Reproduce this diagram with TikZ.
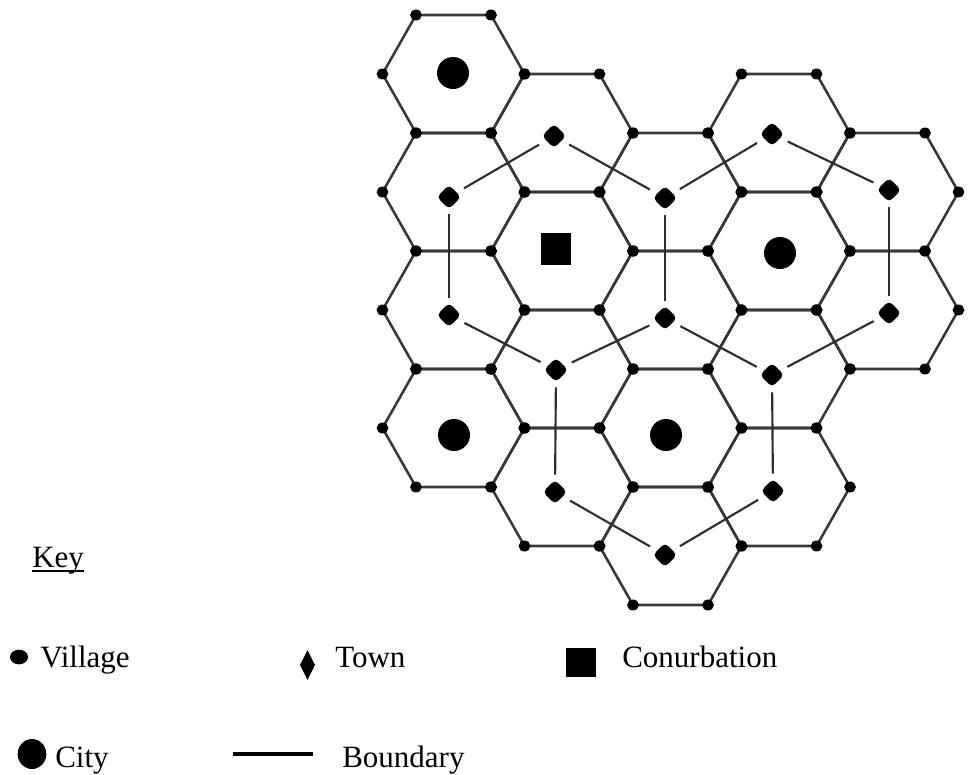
\documentclass[tikz,border=0pt]{standalone}
\usepackage{fontspec}
\setmainfont{Liberation Serif}
\usetikzlibrary{shapes.geometric}

\begin{document}
\begin{tikzpicture}[x=0.75pt,y=-0.75pt,
  hexline/.style={draw=black!78, line width=1.9pt, line join=round},
  bnd/.style={draw=black!82, line width=1.6pt, shorten <=13pt, shorten >=13pt},
  town/.style={diamond, fill=black, inner sep=0pt, minimum width=18.5pt, minimum height=18.5pt, rounded corners=3.5pt},
  city/.style={circle, fill=black, inner sep=0pt, minimum size=24pt},
  conurb/.style={rectangle, fill=black, inner sep=0pt, minimum width=22pt, minimum height=23.5pt},
  keytext/.style={anchor=base west, inner sep=0pt, font=\fontsize{23.25}{28}\selectfont}
]
\useasboundingbox (0,0) rectangle (968,775);

% hexagonal market areas with villages at every corner
\foreach \cx/\cy in {453.5/74, 453.5/192, 453.5/310, 453.5/428,
                     562/133, 562/251, 562/369, 562/487,
                     670.5/192, 670.5/310, 670.5/428, 670.5/546,
                     779/133, 779/251, 779/369, 779/487,
                     887.5/192, 887.5/310}{
  \draw[hexline] ({\cx-71},\cy) -- ({\cx-37.5},{\cy-59}) -- ({\cx+37.5},{\cy-59})
     -- ({\cx+71},\cy) -- ({\cx+37.5},{\cy+59}) -- ({\cx-37.5},{\cy+59}) -- cycle;
}
\foreach \cx/\cy in {453.5/74, 453.5/192, 453.5/310, 453.5/428,
                     562/133, 562/251, 562/369, 562/487,
                     670.5/192, 670.5/310, 670.5/428, 670.5/546,
                     779/133, 779/251, 779/369, 779/487,
                     887.5/192, 887.5/310}{
  \foreach \dx/\dy in {-71/0, -37.5/-59, 37.5/-59, 71/0, 37.5/59, -37.5/59}
    \fill ({\cx+\dx},{\cy+\dy}) ellipse [x radius=4.4pt, y radius=4.1pt];
}

% higher order settlements at the centres
\node[city]   (cA1) at (453,73)  {};
\node[town]   (tA2) at (449,197) {};
\node[town]   (tA3) at (449,315) {};
\node[city]   (cA4) at (454,435) {};
\node[town]   (tB1) at (554,136) {};
\node[conurb] (cB2) at (556,249) {};
\node[town]   (tB3) at (556,370) {};
\node[town]   (tB4) at (555,492) {};
\node[town]   (tC1) at (665,198) {};
\node[town]   (tC2) at (665,318) {};
\node[city]   (cC3) at (666,435) {};
\node[town]   (tC4) at (665,555) {};
\node[town]   (tD1) at (772,134) {};
\node[city]   (cD2) at (780,253) {};
\node[town]   (tD3) at (772,375) {};
\node[town]   (tD4) at (773,491) {};
\node[town]   (tE1) at (889,190) {};
\node[town]   (tE2) at (889,313) {};

% boundaries joining the towns
\draw[bnd] (tA2.center) -- (tB1.center);
\draw[bnd] (tB1.center) -- (tC1.center);
\draw[bnd] (tC1.center) -- (tD1.center);
\draw[bnd] (tD1.center) -- (tE1.center);
\draw[bnd] (tA2.center) -- (tA3.center);
\draw[bnd] (tC1.center) -- (tC2.center);
\draw[bnd] (tE1.center) -- (tE2.center);
\draw[bnd] (tA3.center) -- (tB3.center);
\draw[bnd] (tB3.center) -- (tC2.center);
\draw[bnd] (tC2.center) -- (tD3.center);
\draw[bnd] (tD3.center) -- (tE2.center);
\draw[bnd] (tB3.center) -- (tB4.center);
\draw[bnd] (tD3.center) -- (tD4.center);
\draw[bnd] (tB4.center) -- (tC4.center);
\draw[bnd] (tC4.center) -- (tD4.center);

% key
\node[keytext] (keyhead) at (32,567) {Key};
\draw[line width=1.6pt] ([yshift=-3.2pt]keyhead.base west) -- ([yshift=-3.2pt]keyhead.base east);

\node[ellipse, fill=black, inner sep=0pt, minimum width=13.5pt, minimum height=11pt] (kvil) at (19,657) {};
\node[keytext] (lvil) at (40,667) {Village};

\node[diamond, fill=black, inner sep=0pt, aspect=0.5, minimum width=11.25pt, minimum height=22.5pt] (ktown) at (307.5,665) {};
\node[keytext] (ltown) at (335,667) {Town};

\node[rectangle, fill=black, inner sep=0pt, minimum width=22.5pt, minimum height=21.75pt] (kconurb) at (581,662.5) {};
\node[keytext] (lconurb) at (622,667) {Conurbation};

\node[ellipse, fill=black, inner sep=0pt, minimum width=21.5pt, minimum height=22.5pt] (kcity) at (32,754) {};
\node[keytext] (lcity) at (55,767) {City};

\coordinate (kb1) at (233,754);
\coordinate (kb2) at (313,754);
\draw[line width=2.3pt] (kb1) -- (kb2);
\node[keytext] (lbound) at (342,767) {Boundary};
\end{tikzpicture}
\end{document}
